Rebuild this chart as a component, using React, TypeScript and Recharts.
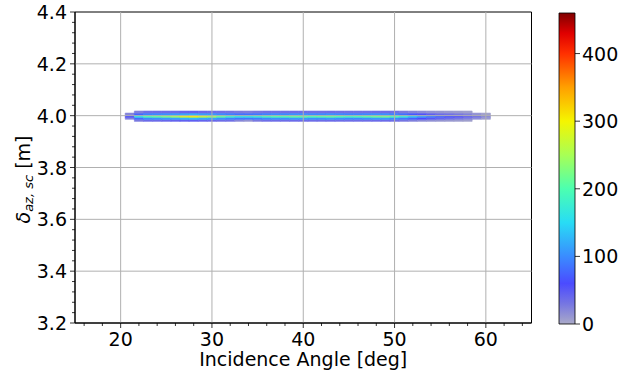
import React from "react";
import {
  ComposedChart,
  Bar,
  XAxis,
  YAxis,
  ReferenceArea,
  ReferenceLine,
} from "recharts";

// 2D histogram of the along-track offset: 1 deg angle bins, 5 offset rows
const ANGLE_BINS = [
  21, 22, 23, 24, 25, 26, 27, 28, 29, 30, 31, 32, 33, 34, 35, 36, 37, 38, 39, 40,
  41, 42, 43, 44, 45, 46, 47, 48, 49, 50, 51, 52, 53, 54, 55, 56, 57, 58, 59, 60,
];
const ANGLE_BIN_WIDTH = 1;
const ROW_CENTERS = [3.982, 3.99, 3.998, 4.006, 4.014];
const ROW_HEIGHT = 0.008;

const COUNTS_3982 = [
  0, 28, 38, 38, 40, 42, 44, 46, 42, 40, 36, 34, 20, 14, 28, 35, 36, 36, 38, 38,
  36, 36, 38, 36, 35, 35, 36, 38, 38, 35, 30, 24, 18, 15, 12, 10, 8, 6, 0, 0,
];
const COUNTS_3990 = [
  24, 80, 100, 105, 110, 115, 125, 130, 120, 115, 105, 95, 88, 88, 92, 100, 105, 105, 110, 110,
  105, 105, 110, 105, 100, 100, 105, 110, 110, 100, 88, 74, 60, 50, 42, 36, 30, 24, 16, 8,
];
const COUNTS_3998 = [
  60, 160, 200, 210, 225, 245, 285, 300, 270, 245, 210, 180, 160, 160, 170, 190, 200, 200, 210, 210,
  200, 205, 210, 200, 190, 195, 205, 215, 220, 200, 170, 135, 110, 90, 75, 65, 55, 45, 35, 20,
];
const COUNTS_4006 = [
  20, 75, 95, 100, 105, 110, 118, 124, 114, 110, 100, 92, 84, 84, 88, 96, 100, 100, 105, 105,
  100, 100, 105, 100, 96, 96, 100, 105, 105, 96, 82, 68, 55, 46, 38, 34, 29, 24, 14, 6,
];
const COUNTS_4014 = [
  0, 25, 35, 36, 38, 38, 42, 44, 40, 38, 35, 32, 28, 26, 30, 34, 35, 35, 36, 36,
  35, 35, 36, 35, 34, 34, 35, 36, 36, 34, 28, 22, 18, 14, 12, 10, 8, 6, 0, 0,
];
const ROW_COUNTS = [COUNTS_3982, COUNTS_3990, COUNTS_3998, COUNTS_4006, COUNTS_4014];

const X_DOMAIN = [15, 65];
const Y_DOMAIN = [3.2, 4.4];
const X_MAJOR = [20, 30, 40, 50, 60];
const X_TICKS = [
  16, 18, 20, 22, 24, 26, 28, 30, 32, 34, 36, 38, 40, 42, 44, 46, 48, 50, 52, 54,
  56, 58, 60, 62, 64,
];
const Y_MAJOR = [3.2, 3.4, 3.6, 3.8, 4.0, 4.2, 4.4];
const Y_MINOR_PER_MAJOR = 4;

const CBAR_MAX = 460;
const CBAR_TICKS = [0, 100, 200, 300, 400];

// jet, faded towards white at the low end
const CMAP: [number, string][] = [
  [0, "#aaaac8"],
  [30, "#7676e2"],
  [60, "#4b4bff"],
  [100, "#3a8cff"],
  [150, "#28dcf5"],
  [200, "#4cffb0"],
  [250, "#a8ff55"],
  [300, "#f5f500"],
  [350, "#ffa000"],
  [400, "#ff3000"],
  [430, "#e00000"],
  [460, "#800000"],
];

const FONT = "DejaVu Sans, sans-serif";
const FS = 19;

const hex = (c: string) => [1, 3, 5].map((i) => parseInt(c.slice(i, i + 2), 16));

function colorAt(v: number) {
  for (let i = 1; i < CMAP.length; i++) {
    const [v1, c1] = CMAP[i];
    if (v <= v1) {
      const [v0, c0] = CMAP[i - 1];
      const t = (v - v0) / (v1 - v0);
      const a = hex(c0);
      const b = hex(c1);
      const m = a.map((k, j) => Math.round(k + (b[j] - k) * t));
      return `rgb(${m[0]},${m[1]},${m[2]})`;
    }
  }
  return CMAP[CMAP.length - 1][1];
}

const yTicks: number[] = [];
Y_MAJOR.forEach((v, i) => {
  yTicks.push(v);
  if (i < Y_MAJOR.length - 1) {
    const step = (Y_MAJOR[i + 1] - v) / (Y_MINOR_PER_MAJOR + 1);
    for (let k = 1; k <= Y_MINOR_PER_MAJOR; k++) yTicks.push(+(v + k * step).toFixed(3));
  }
});
const isYMajor = (v: number) => Y_MAJOR.some((m) => Math.abs(m - v) < 1e-6);

function XTick({ x, y, payload }: any) {
  const major = X_MAJOR.includes(payload.value);
  return (
    <g>
      <line x1={x} x2={x} y1={y} y2={y + (major ? 5 : 3)} stroke="#000" strokeWidth={0.8} />
      {major && (
        <text x={x} y={y + 23} textAnchor="middle" fontSize={FS} fontFamily={FONT} fill="#000">
          {payload.value}
        </text>
      )}
    </g>
  );
}

function YTick({ x, y, payload }: any) {
  const major = isYMajor(payload.value);
  return (
    <g>
      <line x1={x} x2={x - (major ? 5 : 3)} y1={y} y2={y} stroke="#000" strokeWidth={0.8} />
      {major && (
        <text x={x - 8} y={y + 7} textAnchor="end" fontSize={FS} fontFamily={FONT} fill="#000">
          {payload.value.toFixed(1)}
        </text>
      )}
    </g>
  );
}

function CbarTick({ x, y, payload }: any) {
  return (
    <g>
      <line x1={x} x2={x + 5} y1={y} y2={y} stroke="#000" strokeWidth={0.8} />
      <text x={x + 7} y={y + 7} textAnchor="start" fontSize={FS} fontFamily={FONT} fill="#000">
        {payload.value}
      </text>
    </g>
  );
}

function XLabel({ viewBox }: any) {
  return (
    <text
      x={viewBox.x + viewBox.width / 2}
      y={viewBox.y + viewBox.height - 6}
      textAnchor="middle"
      fontSize={FS}
      fontFamily={FONT}
      fill="#000"
    >
      Incidence Angle [deg]
    </text>
  );
}

function YLabel({ viewBox }: any) {
  const cx = viewBox.x + 15;
  const cy = viewBox.y + viewBox.height / 2 + 12;
  return (
    <text
      x={cx}
      y={cy}
      transform={`rotate(-90 ${cx} ${cy})`}
      textAnchor="middle"
      fontSize={FS}
      fontFamily={FONT}
      fill="#000"
    >
      <tspan fontStyle="italic">δ</tspan>
      <tspan fontStyle="italic" fontSize={13} dy={3}>az, sc</tspan>
      <tspan dy={-3}> [m]</tspan>
    </text>
  );
}

export default function App() {
  const cells: { x: number; y: number; n: number }[] = [];
  ROW_COUNTS.forEach((row, r) =>
    row.forEach((n, i) => {
      if (n > 0) cells.push({ x: ANGLE_BINS[i], y: ROW_CENTERS[r], n });
    })
  );

  return (
    <div style={{ position: "absolute", left: 0, top: 0, width: 630, height: 372, background: "#fff" }}>
      <ComposedChart
        width={630}
        height={372}
        margin={{ top: 12, right: 98.5, bottom: 0, left: 15 }}
        style={{ position: "absolute", left: 0, top: 0 }}
      >
        <XAxis
          type="number"
          dataKey="x"
          domain={X_DOMAIN}
          ticks={X_TICKS}
          interval={0}
          allowDataOverflow
          height={49}
          tickLine={false}
          tickSize={0}
          tickMargin={0}
          axisLine={{ stroke: "#000" }}
          tick={<XTick />}
          label={<XLabel />}
        />
        <YAxis
          type="number"
          dataKey="y"
          domain={Y_DOMAIN}
          ticks={yTicks}
          interval={0}
          allowDataOverflow
          width={60}
          tickLine={false}
          tickSize={0}
          tickMargin={0}
          axisLine={{ stroke: "#000" }}
          tick={<YTick />}
          label={<YLabel />}
        />
        {X_MAJOR.map((v) => (
          <ReferenceLine key={`gx${v}`} x={v} stroke="#b0b0b0" strokeWidth={1} />
        ))}
        {Y_MAJOR.slice(1, -1).map((v) => (
          <ReferenceLine key={`gy${v}`} y={v} stroke="#b0b0b0" strokeWidth={1} />
        ))}
        {cells.map((c) => (
          <ReferenceArea
            key={`c${c.x}_${c.y}`}
            x1={c.x - ANGLE_BIN_WIDTH / 2}
            x2={c.x + ANGLE_BIN_WIDTH / 2}
            y1={c.y - ROW_HEIGHT / 2}
            y2={c.y + ROW_HEIGHT / 2}
            fill={colorAt(c.n)}
            fillOpacity={1}
            stroke={colorAt(c.n)}
            strokeWidth={0.6}
          />
        ))}
        <ReferenceArea
          x1={X_DOMAIN[0]}
          x2={X_DOMAIN[1]}
          y1={Y_DOMAIN[0]}
          y2={Y_DOMAIN[1]}
          fill="none"
          fillOpacity={0}
          stroke="#000"
          strokeWidth={1}
        />
      </ComposedChart>

      <ComposedChart
        width={90}
        height={372}
        data={[{ name: "count", v: CBAR_MAX }]}
        margin={{ top: 13, right: 0, bottom: 48, left: 19 }}
        barCategoryGap={0}
        style={{ position: "absolute", left: 540, top: 0 }}
      >
        <defs>
          <linearGradient id="jetGrad" x1="0" y1="1" x2="0" y2="0">
            {CMAP.map(([v, c]) => (
              <stop key={v} offset={v / CBAR_MAX} stopColor={c} />
            ))}
          </linearGradient>
        </defs>
        <XAxis dataKey="name" type="category" hide />
        <YAxis
          orientation="right"
          type="number"
          domain={[0, CBAR_MAX]}
          ticks={CBAR_TICKS}
          interval={0}
          width={55}
          axisLine={false}
          tickLine={false}
          tickSize={0}
          tickMargin={0}
          tick={<CbarTick />}
        />
        <Bar dataKey="v" fill="url(#jetGrad)" stroke="#000" strokeWidth={0.8} isAnimationActive={false} />
      </ComposedChart>
    </div>
  );
}
